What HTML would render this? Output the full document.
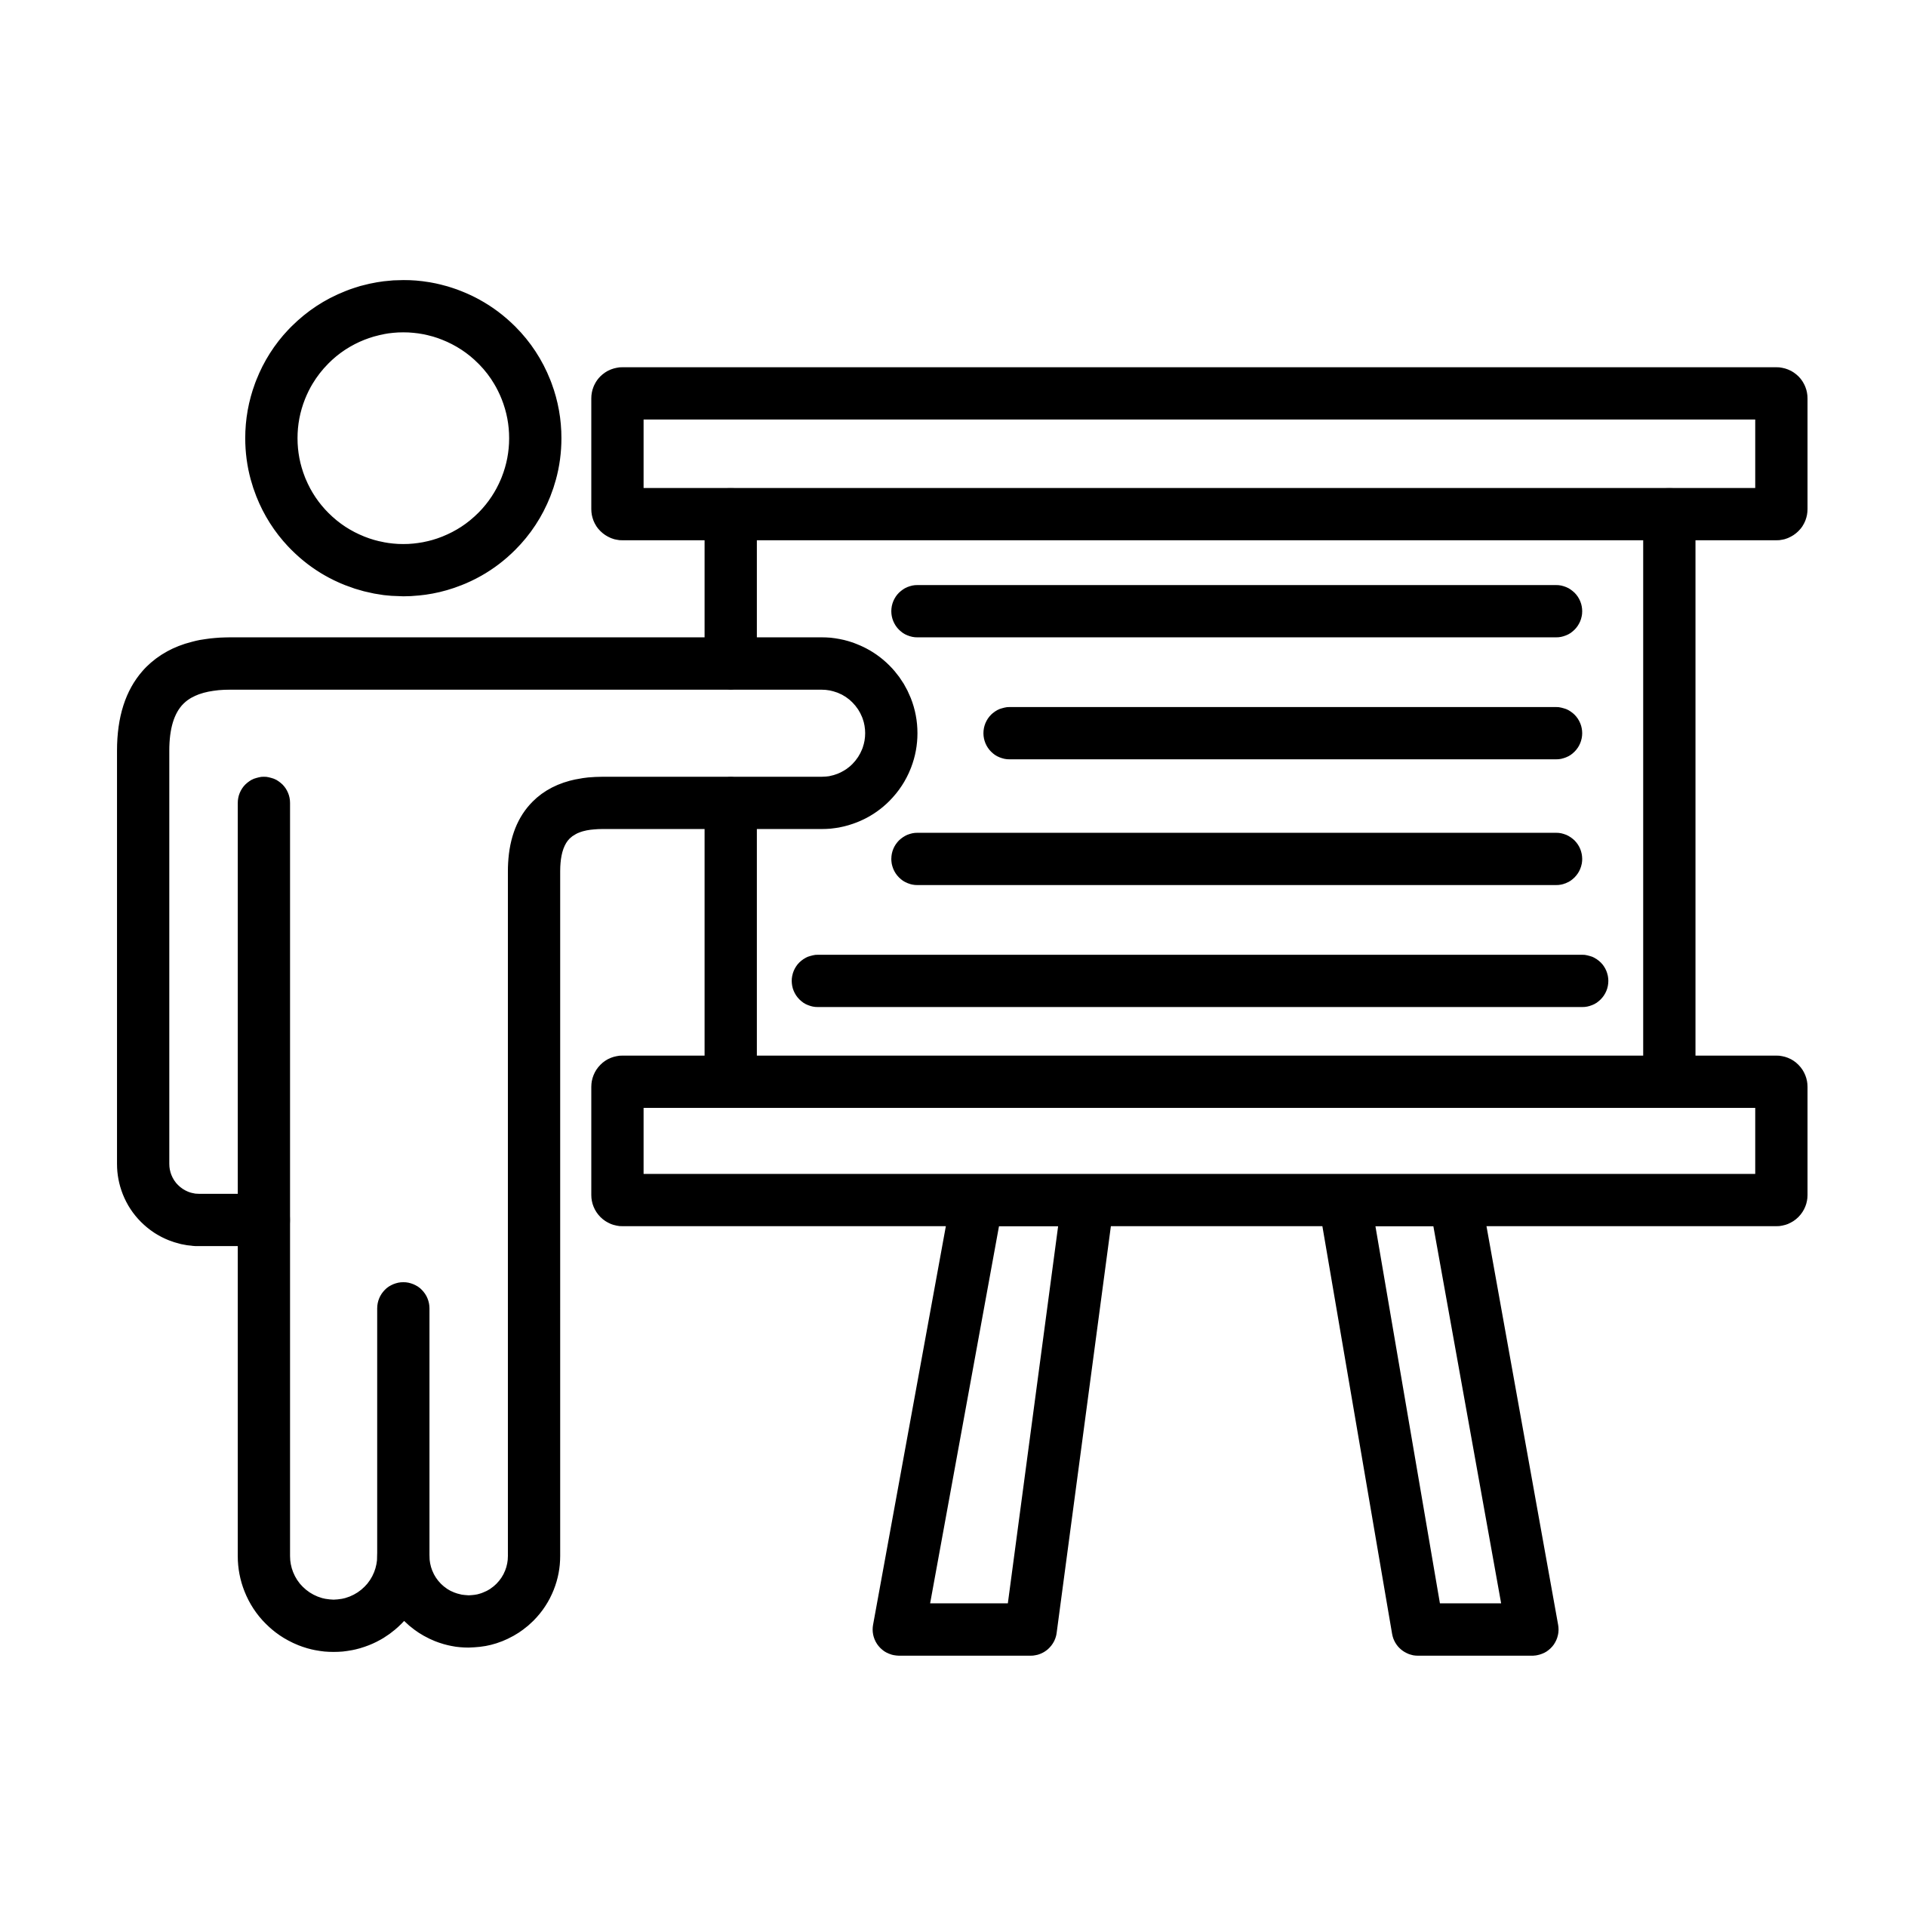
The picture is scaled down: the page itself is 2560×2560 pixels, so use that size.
<!DOCTYPE html>
<html><head><meta charset="utf-8"><style>html,body{margin:0;padding:0;background:#fff}svg{display:block}</style></head>
<body>
<svg width="2560" height="2560" viewBox="0 0 1552 1552" xmlns="http://www.w3.org/2000/svg">
<rect width="1552" height="1552" fill="#fff"/>
<g fill="none" stroke="#000" stroke-width="42" stroke-linecap="round" stroke-linejoin="round">
<circle cx="324" cy="352" r="106"/>
<rect x="496" y="316" width="935" height="97" rx="4"/>
<rect x="496" y="869" width="935" height="95" rx="4"/>
<line x1="587" y1="413" x2="587" y2="533"/>
<line x1="587" y1="645" x2="587" y2="869"/>
<line x1="1341" y1="413" x2="1341" y2="869"/>
<line x1="737" y1="491" x2="1250" y2="491"/>
<line x1="811" y1="589" x2="1250" y2="589"/>
<line x1="737" y1="690" x2="1250" y2="690"/>
<line x1="657" y1="788" x2="1271" y2="788"/>
<polygon points="785,964 874,964 828,1309 722,1309"/>
<polygon points="1080,964 1169,964 1231,1309 1139,1309"/>
<path d="M324,1051 L324,1250 A52.5,52.5 0 0 0 429,1250 L429,700 Q429,645 484,645 L660,645 A56,56 0 0 0 660,533 L185,533 Q115,533 115,603 L115,935 A45,45 0 0 0 160,980 L212,980"/>
<path d="M212,645 L212,1250 A56,56 0 0 0 324,1250"/>
</g>
</svg>
</body></html>
